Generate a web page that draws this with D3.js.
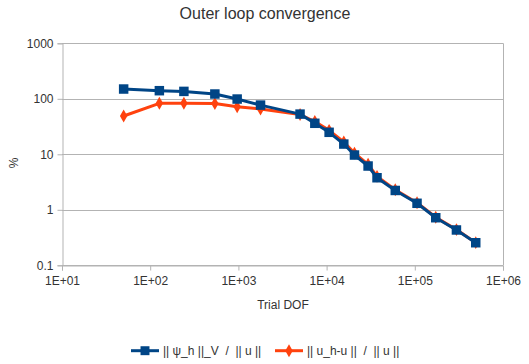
<!DOCTYPE html>
<html>
<head>
<meta charset="utf-8">
<script src="https://cdn.jsdelivr.net/npm/d3@7"></script>
<style>
  html, body { margin: 0; padding: 0; background: #fff; }
  svg { display: block; font-family: "Liberation Sans", Arial, sans-serif; }
  text { fill: #333; }
</style>
</head>
<body>
<svg id="chart" width="529" height="364"></svg>
<script>
// Trial degrees of freedom per outer iteration
const trialDof = [50, 127, 241, 541, 968, 1782, 5000, 7355, 10680, 15670, 20700, 29540, 37300, 60060, 106000, 172800, 296500, 491000];
// Error estimator ||psi_h||_V / ||u|| in percent
const estimatorPct = [150, 140, 136, 122, 99, 77, 53, 36.2, 24.9, 15.3, 9.7, 6.15, 3.78, 2.23, 1.31, 0.72, 0.433, 0.255];
// True error ||u_h - u|| / ||u|| in percent
const errorPct = [49, 83, 83, 82, 72, 65.5, 52, 39, 27, 16.7, 10.5, 6.6, 4.0, 2.3, 1.34, 0.735, 0.44, 0.256];

const xTicks = [1e1, 1e2, 1e3, 1e4, 1e5, 1e6];
const xTickLabels = ["1E+01", "1E+02", "1E+03", "1E+04", "1E+05", "1E+06"];
const yTicks = [0.1, 1, 10, 100, 1000];
const yTickLabels = ["0.1", "1", "10", "100", "1000"];

const seriesNames = ["|| \u03C8_h ||_V  /  || u ||", "|| u_h-u ||  /  || u ||"];
const seriesColors = ["#004586", "#ff420e"];

const svg = d3.select("#chart");
const plot = { left: 62, right: 503, top: 43.3, bottom: 265.3 };

const x = d3.scaleLog().domain([1e1, 1e6]).range([plot.left, plot.right]);
const y = d3.scaleLog().domain([0.1, 1000]).range([plot.bottom, plot.top]);
const grid = "#b3b3b3";

// Title
svg.append("text")
  .attr("x", 265).attr("y", 18.5)
  .attr("text-anchor", "middle")
  .style("font-size", "16px")
  .text("Outer loop convergence");

// Horizontal grid lines
svg.append("g").selectAll("line").data(yTicks).join("line")
  .attr("x1", plot.left).attr("x2", plot.right)
  .attr("y1", d => Math.round(y(d)) + 0.5).attr("y2", d => Math.round(y(d)) + 0.5)
  .attr("stroke", grid).attr("stroke-width", 1);

// Right edge of plot area
svg.append("line")
  .attr("x1", Math.round(plot.right) + 0.5).attr("x2", Math.round(plot.right) + 0.5)
  .attr("y1", plot.top).attr("y2", plot.bottom)
  .attr("stroke", grid);

// Y axis
const yAxis = d3.axisLeft(y).tickValues(yTicks)
  .tickFormat((d, i) => yTickLabels[i]).tickSize(5).tickPadding(4);
const gy = svg.append("g").attr("transform", `translate(${plot.left + 0.5},0)`).call(yAxis);
gy.select(".domain").attr("stroke", grid);
gy.selectAll(".tick line").attr("stroke", grid);
gy.selectAll(".tick text").style("font-size", "12px").style("font-family", "Liberation Sans, Arial, sans-serif").attr("fill", "#333");

// X axis
const xAxis = d3.axisBottom(x).tickValues(xTicks)
  .tickFormat((d, i) => xTickLabels[i]).tickSize(5).tickPadding(6);
const gx = svg.append("g").attr("transform", `translate(0,${Math.round(plot.bottom) + 0.5})`).call(xAxis);
gx.select(".domain").attr("stroke", grid);
gx.selectAll(".tick line").attr("stroke", grid);
gx.selectAll(".tick text").style("font-size", "12px").style("font-family", "Liberation Sans, Arial, sans-serif").attr("fill", "#333");

// Axis titles
svg.append("text")
  .attr("x", 283).attr("y", 309)
  .attr("text-anchor", "middle")
  .style("font-size", "12px")
  .text("Trial DOF");
svg.append("text")
  .attr("transform", "translate(18,163) rotate(-90)")
  .attr("text-anchor", "middle")
  .style("font-size", "12px")
  .text("%");

// Series
const line = d3.line().x(d => x(d[0])).y(d => y(d[1]));
const series = [
  { vals: estimatorPct, color: seriesColors[0], marker: d3.symbolSquare, size: 90 },
  { vals: errorPct, color: seriesColors[1], marker: d3.symbolDiamond, size: 48 }
];

// draw the true error first so the estimator sits on top
[series[1], series[0]].forEach(s => {
  const pts = trialDof.map((d, i) => [d, s.vals[i]]);
  svg.append("path").datum(pts)
    .attr("d", line).attr("fill", "none")
    .attr("stroke", s.color).attr("stroke-width", 3)
    .attr("stroke-linejoin", "round");
  svg.append("g").selectAll("path").data(pts).join("path")
    .attr("transform", d => `translate(${x(d[0])},${y(d[1])})`)
    .attr("d", d3.symbol().type(s.marker).size(s.size))
    .attr("fill", s.color);
});

// Legend
const legendY = 350.7;
const legendItems = [
  { x0: 131, color: seriesColors[0], marker: d3.symbolSquare, size: 80, label: seriesNames[0] },
  { x0: 275, color: seriesColors[1], marker: d3.symbolDiamond, size: 48, label: seriesNames[1] }
];
legendItems.forEach(it => {
  const g = svg.append("g");
  g.append("line").attr("x1", it.x0).attr("x2", it.x0 + 28)
    .attr("y1", legendY).attr("y2", legendY)
    .attr("stroke", it.color).attr("stroke-width", 3);
  g.append("path").attr("transform", `translate(${it.x0 + 14},${legendY})`)
    .attr("d", d3.symbol().type(it.marker).size(it.size)).attr("fill", it.color);
  g.append("text").attr("x", it.x0 + 32).attr("y", legendY + 4.5)
    .style("font-size", "12px").style("white-space", "pre")
    .text(it.label);
});
</script>
</body>
</html>
